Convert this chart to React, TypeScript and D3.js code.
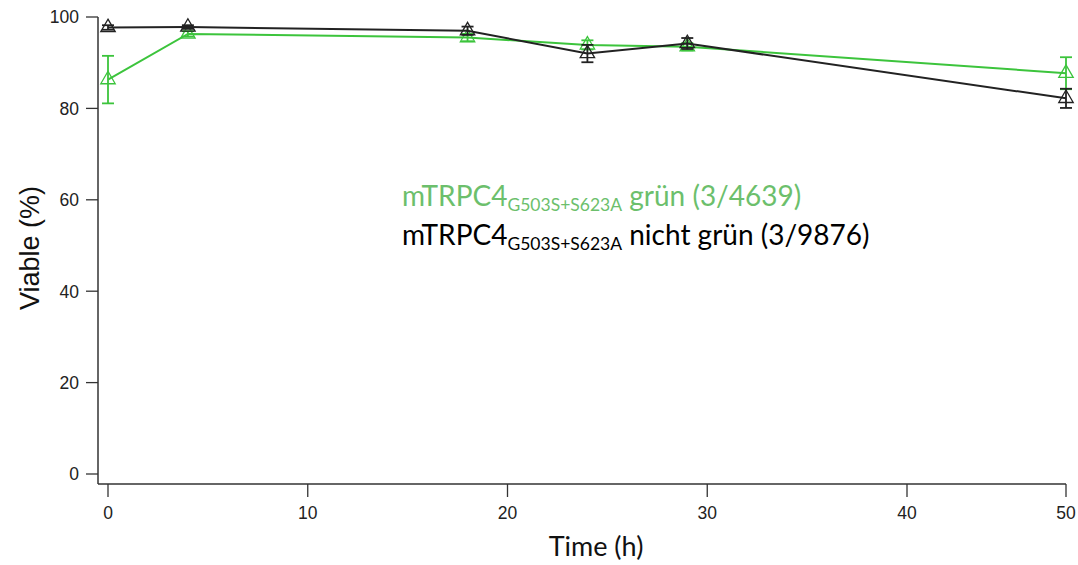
import React, { useEffect, useRef } from "react";
import * as d3 from "d3";

const xTickValues = [0, 10, 20, 30, 40, 50];
const yTickValues = [0, 20, 40, 60, 80, 100];

const times = [0, 4, 18, 24, 29, 50];
const gruenMean = [86.3, 96.3, 95.5, 93.9, 93.5, 87.7];
const gruenErr = [5.2, 0.6, 0.8, 1.0, 0.8, 3.5];
const nichtMean = [97.7, 97.8, 97.0, 92.0, 94.2, 82.2];
const nichtErr = [0.5, 0.4, 0.9, 1.9, 1.2, 2.1];

const GREEN = "#3cc43c";
const GREEN_TEXT = "#6cbf6c";
const BLACK = "#222222";

export default function App() {
  const ref = useRef<SVGSVGElement>(null);

  useEffect(() => {
    const svg = d3.select(ref.current);
    svg.selectAll("*").remove();

    const x = d3.scaleLinear().domain([0, 40, 50]).range([108, 907, 1066]);
    const y = d3.scaleLinear().domain([0, 100]).range([474, 17]);
    const axisX = 98;
    const axisY = 484;

    const g = svg.append("g");

    // axes lines
    g.append("line").attr("x1", axisX).attr("x2", axisX).attr("y1", y(100)).attr("y2", axisY)
      .attr("stroke", "#333").attr("stroke-width", 1.5);
    g.append("line").attr("x1", axisX).attr("x2", x(50)).attr("y1", axisY).attr("y2", axisY)
      .attr("stroke", "#333").attr("stroke-width", 1.5);

    // y ticks
    yTickValues.forEach((v) => {
      g.append("line").attr("x1", axisX - 12).attr("x2", axisX).attr("y1", y(v)).attr("y2", y(v))
        .attr("stroke", "#333").attr("stroke-width", 1.3);
      g.append("text").attr("x", 79).attr("y", y(v)).attr("dy", "0.36em")
        .attr("text-anchor", "end").attr("font-family", "Liberation Sans, Arial, sans-serif")
        .attr("font-size", 17.5).attr("fill", "#222").text(String(v));
    });

    // x ticks
    xTickValues.forEach((v) => {
      g.append("line").attr("x1", x(v)).attr("x2", x(v)).attr("y1", axisY).attr("y2", axisY + 13)
        .attr("stroke", "#333").attr("stroke-width", 1.3);
      g.append("text").attr("x", x(v)).attr("y", 519)
        .attr("text-anchor", "middle").attr("font-family", "Liberation Sans, Arial, sans-serif")
        .attr("font-size", 17.5).attr("fill", "#222").text(String(v));
    });

    // axis titles
    g.append("text").attr("transform", `translate(39,${248}) rotate(-90)`)
      .attr("text-anchor", "middle").attr("font-family", "Liberation Sans, Arial, sans-serif")
      .attr("font-size", 27).attr("fill", "#111").text("Viable (%)");
    g.append("text").attr("x", 596).attr("y", 556)
      .attr("text-anchor", "middle").attr("font-family", "Lato, sans-serif")
      .attr("font-size", 27).attr("fill", "#111").text("Time (h)");

    const drawSeries = (means: number[], errs: number[], color: string) => {
      const pts = times.map((t, i) => ({ t, m: means[i], e: errs[i] }));
      const line = d3.line<{ t: number; m: number }>().x((d) => x(d.t)).y((d) => y(d.m));
      g.append("path").datum(pts).attr("d", line).attr("fill", "none")
        .attr("stroke", color).attr("stroke-width", 2);
      pts.forEach((p) => {
        const cx = x(p.t);
        g.append("line").attr("x1", cx).attr("x2", cx).attr("y1", y(p.m + p.e)).attr("y2", y(p.m - p.e))
          .attr("stroke", color).attr("stroke-width", 1.8);
        [p.m + p.e, p.m - p.e].forEach((v) => {
          g.append("line").attr("x1", cx - 6).attr("x2", cx + 6).attr("y1", y(v)).attr("y2", y(v))
            .attr("stroke", color).attr("stroke-width", 1.8);
        });
        const sym = d3.symbol().type(d3.symbolTriangle).size(90);
        g.append("path").attr("d", sym()).attr("transform", `translate(${cx},${y(p.m)})`)
          .attr("fill", "none").attr("stroke", color).attr("stroke-width", 1.3);
      });
    };

    drawSeries(gruenMean, gruenErr, GREEN);
    drawSeries(nichtMean, nichtErr, BLACK);

    // legend text
    const addLegend = (yy: number, color: string, rest: string) => {
      const t = g.append("text").attr("x", 402).attr("y", yy)
        .attr("font-family", "Lato, sans-serif").attr("font-size", 28).attr("fill", color);
      t.append("tspan").text("mTRPC4");
      t.append("tspan").attr("font-size", 17.5).attr("dy", 5).text("G503S+S623A");
      t.append("tspan").attr("dy", -5).text(rest);
    };
    addLegend(206, GREEN_TEXT, " grün (3/4639)");
    addLegend(245, "#000", " nicht grün (3/9876)");
  }, []);

  return (
    <svg ref={ref} width={1078} height={565}
      style={{ position: "absolute", left: 0, top: 0, background: "#fff" }} />
  );
}
